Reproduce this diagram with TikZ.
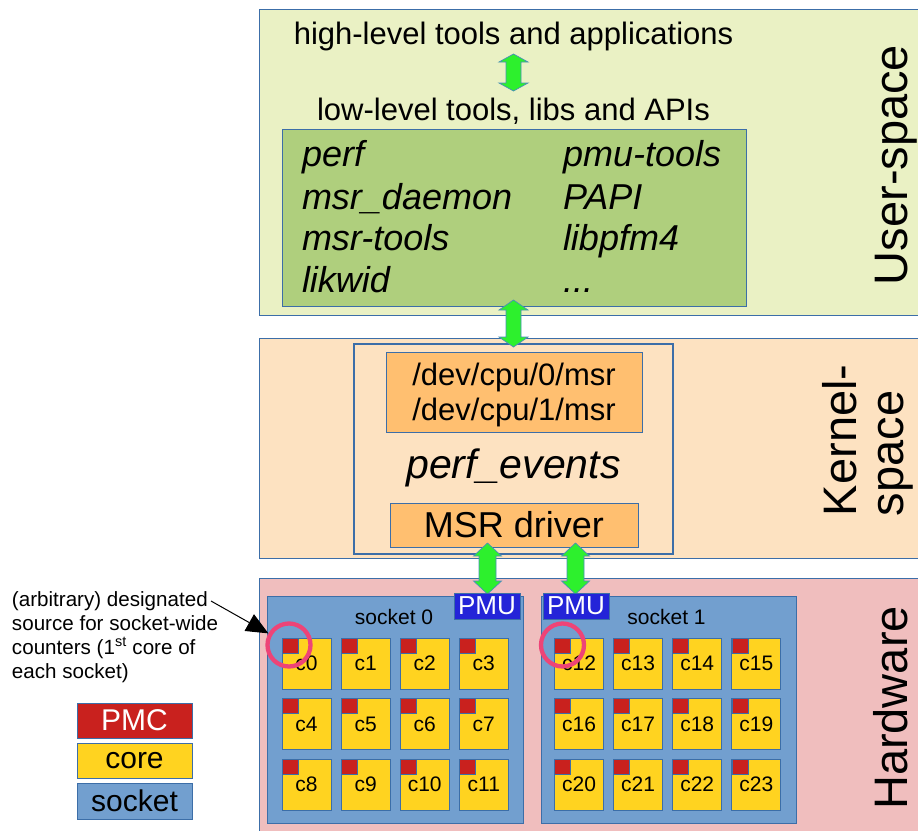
\documentclass[tikz,border=0pt]{standalone}
\usepackage{fontspec}
\setmainfont{Liberation Sans}
\usetikzlibrary{arrows.meta,calc}

\definecolor{userbg}{HTML}{EAF1C4}
\definecolor{toolsbg}{HTML}{AFCF7D}
\definecolor{kernelbg}{HTML}{FDE2C1}
\definecolor{drvbg}{HTML}{FFBF70}
\definecolor{hwbg}{HTML}{F0BEBE}
\definecolor{sockbg}{HTML}{729FCF}
\definecolor{corebg}{HTML}{FFD320}
\definecolor{pmcred}{HTML}{C9211E}
\definecolor{pmublue}{HTML}{2424D8}
\definecolor{edge}{HTML}{3C6EA8}
\definecolor{arrowgreen}{HTML}{2DF02D}
\definecolor{arrowedge}{HTML}{4A8FB8}
\definecolor{markred}{HTML}{EE4477}

\newcommand\fsz[1]{\fontsize{#1}{#1}\selectfont}

% vertical double-headed block arrow between two named points
% #1 top point, #2 bottom point, #3 head half width, #4 shaft half width, #5 head length
\newcommand\vdarrow[5]{%
  \path[garrow] let \p1=(#1), \p2=(#2) in
    (\x1,\y1) -- (\x1+#3pt,\y1-#5pt) -- (\x1+#4pt,\y1-#5pt)
    -- (\x2+#4pt,\y2+#5pt) -- (\x2+#3pt,\y2+#5pt) -- (\x2,\y2)
    -- (\x2-#3pt,\y2+#5pt) -- (\x2-#4pt,\y2+#5pt)
    -- (\x1-#4pt,\y1-#5pt) -- (\x1-#3pt,\y1-#5pt) -- cycle;}

\begin{document}
\begin{tikzpicture}[x=1pt,y=-1pt,
  box/.style={draw=edge, line width=0.8pt, inner sep=0pt, outer sep=0pt, anchor=north west},
  lbl/.style={inner sep=0pt, outer sep=0pt},
  garrow/.style={fill=arrowgreen, draw=arrowedge, line width=0.7pt, line join=miter},
  corebox/.style={box, fill=corebg, minimum width=49, minimum height=51, font=\fsz{21}},
  pmcbox/.style={box, fill=pmcred, line width=0.5pt, minimum width=16, minimum height=15},
  pmubox/.style={box, fill=pmublue, draw=edge, minimum width=66, minimum height=26, text=white, font=\fsz{26}},
  legbox/.style={box, minimum width=115, minimum height=35, font=\fsz{30}},
  ringmark/.style={circle, draw=markred, line width=4.3pt, minimum size=43, inner sep=0pt},
  side/.style={lbl, rotate=90, font=\fsz{47}},
  tool/.style={lbl, anchor=base west, font=\fsz{36}\itshape},
]
\useasboundingbox (0,0) rectangle (918,830);
\fill[white] (0,0) rectangle (918,830);

% ---------------- layers ----------------
\node[box, fill=userbg, minimum width=659, minimum height=306] (user) at (259,9) {};
\node[box, fill=kernelbg, minimum width=659, minimum height=220] (kernel) at (259,338) {};
\node[box, fill=hwbg, minimum width=659, minimum height=262] (hw) at (259,578) {};

\node[side, anchor=base] (userlbl) at (907,165) {User-space};
\node[side, anchor=base west] (kernlbl1) at (856,516) {Kernel-};
\node[side, anchor=base west] (kernlbl2) at (903,516) {space};
\node[side, anchor=base] (hwlbl) at (907,708) {Hardware};

% ---------------- user space ----------------
\node[lbl, anchor=base, font=\fsz{31}] (high) at (513.5,44) {high-level tools and applications};
\node[lbl, anchor=base, font=\fsz{31}] (low) at (513.5,120) {low-level tools, libs and APIs};
\node[box, fill=toolsbg, minimum width=464, minimum height=177] (tools) at (282,129) {};

\node[tool] (t1) at (302,166) {perf};
\node[tool] (t2) at (302,209) {msr\_daemon};
\node[tool] (t3) at (302,250) {msr-tools};
\node[tool] (t4) at (302,292) {likwid};
\node[tool] (t5) at (563,166) {pmu-tools};
\node[tool] (t6) at (563,209) {PAPI};
\node[tool] (t7) at (563,250) {libpfm4};
\node[tool] (t8) at (563,292) {...};

% ---------------- kernel space ----------------
\node[box, fill=kernelbg, line width=1.8pt, minimum width=319, minimum height=210] (kbox) at (354,344) {};
\node[box, fill=drvbg, minimum width=256, minimum height=80] (dev) at (386,352) {};
\node[lbl, anchor=base, font=\fsz{31}] (dev0) at (514,385) {/dev/cpu/0/msr};
\node[lbl, anchor=base, font=\fsz{31}] (dev1) at (514,420) {/dev/cpu/1/msr};
\node[lbl, anchor=base, font=\fsz{41}\itshape] (pe) at (513.5,478) {perf\_events};
\node[box, fill=drvbg, minimum width=248, minimum height=44, font=\fsz{36}] (msr) at (390,503) {MSR driver};

% ---------------- arrows between layers ----------------
\coordinate (a1t) at (513.5,54);  \coordinate (a1b) at (513.5,91);
\coordinate (a2t) at (513.5,300); \coordinate (a2b) at (513.5,347);
\coordinate (a3t) at (487.5,543); \coordinate (a3b) at (487.5,594);
\coordinate (a4t) at (575.5,543); \coordinate (a4b) at (575.5,594);
\vdarrow{a1t}{a1b}{14.5}{7.5}{8}
\vdarrow{a2t}{a2b}{14.5}{7.5}{10}
\vdarrow{a3t}{a3b}{14}{8.5}{13}
\vdarrow{a4t}{a4b}{14}{8.5}{13}

% ---------------- hardware ----------------
\node[box, fill=sockbg, minimum width=256, minimum height=227] (sock0) at (267,596) {};
\node[box, fill=sockbg, minimum width=255, minimum height=227] (sock1) at (541,596) {};
\node[lbl, anchor=base, font=\fsz{21}] (s0lbl) at (394,624) {socket 0};
\node[lbl, anchor=base, font=\fsz{21}] (s1lbl) at (666.5,624) {socket 1};
\node[pmubox] (pmu0) at (454,593) {PMU};
\node[pmubox] (pmu1) at (543,593) {PMU};

\foreach \s/\sx in {0/282,1/554.5} {
  \foreach \j in {0,1,2} {
    \foreach \i in {0,...,3} {
      \pgfmathtruncatemacro\n{12*\s+4*\j+\i}
      \pgfmathsetmacro\cx{\sx+59.1*\i}
      \pgfmathsetmacro\cy{638+60.5*\j}
      \node[corebox] (core\n) at (\cx,\cy) {c\n};
      \node[pmcbox] (pmc\n) at (\cx,\cy) {};
    }
  }
}

\node[ringmark] (ring0) at (289,645) {};
\node[ringmark] (ring1) at (562.5,645) {};

% ---------------- annotation ----------------
\node[lbl, anchor=base west, font=\fsz{20.6}] (note1) at (12,606) {(arbitrary) designated};
\node[lbl, anchor=base west, font=\fsz{20.6}] (note2) at (12,630) {source for socket-wide};
\node[lbl, anchor=base west, font=\fsz{20.6}] (note3) at (12,654) {counters (1\textsuperscript{st} core of};
\node[lbl, anchor=base west, font=\fsz{20.6}] (note4) at (12,678) {each socket)};
\coordinate (notetail) at (211,601);
\draw[line width=1pt, -{Triangle[length=22pt,width=19pt]}] (notetail) -- (ring0);

% ---------------- legend ----------------
\node[legbox, fill=pmcred, text=white] (legpmc) at (77,703) {PMC};
\node[legbox, fill=corebg] (legcore) at (77,743) {core};
\node[legbox, fill=sockbg, minimum height=36] (legsock) at (77,783) {socket};
\end{tikzpicture}
\end{document}
